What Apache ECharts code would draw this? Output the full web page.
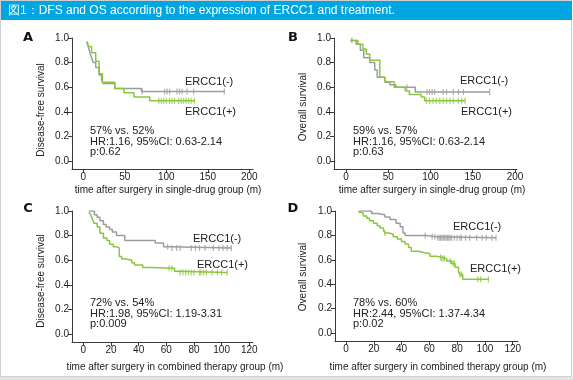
<!DOCTYPE html>
<html><head><meta charset="utf-8">
<script src="https://cdn.jsdelivr.net/npm/echarts@6/dist/echarts.min.js"></script>
<style>html,body{margin:0;padding:0;background:#fff}#c{width:573px;height:380px}</style>
</head><body><div id="c"></div>
<script>
// ---------- text ----------
const titleText = '図1：DFS and OS according to the expression of ERCC1 and treatment.';
const panelLetters = ['A', 'B', 'C', 'D'];
const yNames = ['Disease-free survival', 'Overall survival', 'Disease-free survival', 'Overall survival'];
const xNames = ['time after surgery in single-drug group (m)', 'time after surgery in single-drug group (m)',
  'time after surgery in combined therapy group (m)', 'time after surgery in combined therapy group (m)'];
const statsA = ['57% vs. 52%', 'HR:1.16, 95%CI: 0.63-2.14', 'p:0.62'];
const statsB = ['59% vs. 57%', 'HR:1.16, 95%CI: 0.63-2.14', 'p:0.63'];
const statsC = ['72% vs. 54%', 'HR:1.98, 95%CI: 1.19-3.31', 'p:0.009'];
const statsD = ['78% vs. 60%', 'HR:2.44, 95%CI: 1.37-4.34', 'p:0.02'];
const seriesNames = ['ERCC1(-)', 'ERCC1(+)'];

// ---------- ticks ----------
const xTicksSingle = [0, 50, 100, 150, 200];
const xTicksCombined = [0, 20, 40, 60, 80, 100, 120];
const yTicks = [0, 0.2, 0.4, 0.6, 0.8, 1.0];
const yTickLabels = ['0.0', '0.2', '0.4', '0.6', '0.8', '1.0'];

// ---------- data: [time, survival] steps ----------
const A_neg = [[4,0.97],[6,0.93],[8,0.88],[10,0.84],[12,0.80],[15,0.76],[19,0.70],[22,0.66],[24,0.63],[38,0.59],[70,0.565],[170,0.565]];
const A_pos = [[5,0.97],[6,0.93],[10,0.88],[15,0.81],[19,0.71],[23,0.64],[38,0.59],[49,0.555],[61,0.52],[80,0.49],[134,0.49]];
const A_negCens = [71, 98, 101, 104, 113, 116, 119, 125, 133, 170];
const A_posCens = [91, 94, 97, 100, 104, 107, 110, 115, 118, 121, 124, 127, 130, 134];

const B_neg = [[5,0.98],[12,0.95],[17,0.90],[21,0.84],[28,0.80],[34,0.74],[37,0.68],[46,0.64],[52,0.62],[59,0.60],[82,0.56],[170,0.56]];
const B_pos = [[5,0.98],[14,0.95],[20,0.91],[24,0.87],[28,0.82],[40,0.68],[46,0.645],[57,0.60],[70,0.57],[75,0.54],[89,0.52],[93,0.49],[141,0.49]];
const B_negCens = [7, 72, 96, 99, 102, 105, 115, 119, 127, 133, 139, 170];
const B_posCens = [95, 99, 103, 107, 111, 115, 119, 123, 127, 133, 137, 141];

const C_neg = [[4,1.0],[8,0.97],[10,0.95],[12,0.92],[14.5,0.89],[16.5,0.87],[19,0.85],[21,0.83],[24,0.80],[30,0.76],[52,0.74],[58,0.71],[62,0.70],[107,0.70]];
const C_pos = [[4,0.99],[5.3,0.97],[6.7,0.93],[7.7,0.90],[10,0.87],[12,0.82],[14.5,0.78],[17,0.76],[19,0.73],[21.7,0.71],[24,0.70],[26,0.63],[27.7,0.61],[31,0.60],[35,0.58],[37,0.56],[43,0.54],[49,0.535],[66,0.51],[68,0.50],[104,0.50]];
const C_negCens = [61, 64, 67.5, 70, 78, 81, 84, 88, 94, 98, 101, 104, 107];
const C_posCens = [62, 64, 70, 72, 74, 76, 78, 80, 84, 85, 87, 89, 93, 97, 100, 104];

const D_neg = [[9,1.0],[18.5,0.98],[23,0.97],[28,0.95],[31.7,0.93],[36,0.90],[39,0.87],[41,0.82],[42.5,0.80],[58,0.79],[65,0.78],[108,0.78]];
const D_pos = [[9,0.99],[10.6,0.98],[12.5,0.96],[15,0.94],[17,0.92],[19.7,0.90],[22.5,0.88],[24.5,0.86],[27,0.84],[28,0.82],[31,0.81],[34,0.79],[37,0.77],[40,0.75],[42.5,0.73],[45,0.70],[47,0.67],[52,0.66],[56,0.65],[60.5,0.63],[65,0.62],[69,0.61],[72.5,0.59],[76,0.57],[78.5,0.54],[81,0.50],[82,0.48],[84,0.44],[103,0.44]];
const D_negCens = [57, 62, 64, 66, 67, 68, 69, 70, 71, 72, 73, 74, 75, 76, 78, 80, 82, 83, 86, 89, 94, 98, 101, 105, 108];
const D_posCens = [28, 68, 69, 70, 71, 75, 77, 78, 82, 83, 95, 97, 102.5];

// ---------- layout ----------
const GRAY = '#9d9d9d', GREEN = '#8cc63f', AXIS = '#3a3a3a', TXT = '#222';
const FONT = 'Arial, "Liberation Sans", sans-serif';
const panels = [
  {grid:{left:72, top:38, width:181, height:131}, x:[-13.6,204.5], xt:xTicksSingle, neg:A_neg, pos:A_pos, nc:A_negCens, pc:A_posCens, stats:statsA,
   letter:[28,38], yname:[41.5,110], xname:[168,190], negLbl:[185,82], posLbl:[185,112], st:[90,131]},
  {grid:{left:334, top:38, width:183, height:131}, x:[-14.2,202.4], xt:xTicksSingle, neg:B_neg, pos:B_pos, nc:B_negCens, pc:B_posCens, stats:statsB,
   letter:[293,38], yname:[303.5,107], xname:[432,190], negLbl:[460,81], posLbl:[461,112], st:[353,131]},
  {grid:{left:72, top:211, width:181, height:131}, x:[-8.2,122.7], xt:xTicksCombined, neg:C_neg, pos:C_pos, nc:C_negCens, pc:C_posCens, stats:statsC,
   letter:[28,209], yname:[41.5,281], xname:[175,367], negLbl:[193,239], posLbl:[197,265], st:[90,303]},
  {grid:{left:335, top:211, width:183, height:130}, x:[-7.9,123.8], xt:xTicksCombined, neg:D_neg, pos:D_pos, nc:D_negCens, pc:D_posCens, stats:statsD,
   letter:[293,209], yname:[303.5,277], xname:[438,367], negLbl:[453,227], posLbl:[470,269], st:[353,303]}
];

function survivalAt(curve, t) {
  let s = curve[0][1];
  for (const p of curve) { if (p[0] <= t) s = p[1]; }
  return s;
}

const grids = [], xAxes = [], yAxes = [], series = [], graphics = [];
graphics.push({type:'rect', shape:{x:0.5, y:0.5, width:571, height:376}, style:{fill:'#fff', stroke:'#cfcfcf', lineWidth:1}, z:-10});
graphics.push({type:'rect', shape:{x:0, y:377, width:573, height:3}, style:{fill:'#e4e4e4'}, z:-10});
graphics.push({type:'rect', shape:{x:1, y:1, width:571, height:19}, style:{fill:'#00a6e1'}, z:-5});
graphics.push({type:'text', x:8, y:11, style:{text:titleText, fill:'#fff', font:'12px ' + FONT, verticalAlign:'middle'}});

panels.forEach((p, i) => {
  grids.push(p.grid);
  xAxes.push({type:'value', gridIndex:i, min:p.x[0], max:p.x[1],
    axisLine:{onZero:false, lineStyle:{color:AXIS, width:1}},
    axisTick:{show:true, length:4, customValues:p.xt, lineStyle:{color:AXIS}},
    axisLabel:{customValues:p.xt, color:TXT, fontSize:10, fontFamily:FONT, margin:3},
    splitLine:{show:false}});
  yAxes.push({type:'value', gridIndex:i, min:-0.065, max:1.0,
    axisLine:{onZero:false, lineStyle:{color:AXIS, width:1}},
    axisTick:{show:true, length:4, customValues:yTicks, lineStyle:{color:AXIS}},
    axisLabel:{customValues:yTicks, color:TXT, fontSize:10, fontFamily:FONT, margin:3,
      formatter:(v) => yTickLabels[yTicks.findIndex(t => Math.abs(t - v) < 1e-6)] || ''},
    splitLine:{show:false}});
  [[p.neg, p.nc, GRAY, seriesNames[0]], [p.pos, p.pc, GREEN, seriesNames[1]]].forEach(([curve, cens, col, nm]) => {
    series.push({type:'line', name:nm, xAxisIndex:i, yAxisIndex:i, step:'end', data:curve, showSymbol:false,
      lineStyle:{color:col, width:1.5}, silent:true, animation:false});
    series.push({type:'scatter', xAxisIndex:i, yAxisIndex:i, data:cens.map(t => [t, survivalAt(curve, t)]),
      symbol:'rect', symbolSize:[1.2, 6], itemStyle:{color:col}, silent:true, animation:false});
  });
  graphics.push({type:'text', x:p.letter[0], y:p.letter[1], style:{text:panelLetters[i], fill:'#111', font:'bold 13px "DejaVu Sans", sans-serif', align:'center', verticalAlign:'middle'}});
  graphics.push({type:'text', x:p.yname[0], y:p.yname[1], rotation:Math.PI/2, style:{text:yNames[i], fill:TXT, font:'10px ' + FONT, align:'center', verticalAlign:'middle'}});
  graphics.push({type:'text', x:p.xname[0], y:p.xname[1], style:{text:xNames[i], fill:TXT, font:'10px ' + FONT, align:'center', verticalAlign:'middle'}});
  graphics.push({type:'text', x:p.negLbl[0], y:p.negLbl[1], style:{text:seriesNames[0], fill:TXT, font:'11px ' + FONT, verticalAlign:'middle'}});
  graphics.push({type:'text', x:p.posLbl[0], y:p.posLbl[1], style:{text:seriesNames[1], fill:TXT, font:'11px ' + FONT, verticalAlign:'middle'}});
  p.stats.forEach((s, k) => {
    graphics.push({type:'text', x:p.st[0], y:p.st[1] + k * 10.7, style:{text:s, fill:TXT, font:'11px ' + FONT, verticalAlign:'middle'}});
  });
});

const chart = echarts.init(document.getElementById('c'), null, {renderer:'canvas'});
chart.setOption({animation:false, backgroundColor:'#fff', grid:grids, xAxis:xAxes, yAxis:yAxes, series:series, graphic:graphics});
</script></body></html>
